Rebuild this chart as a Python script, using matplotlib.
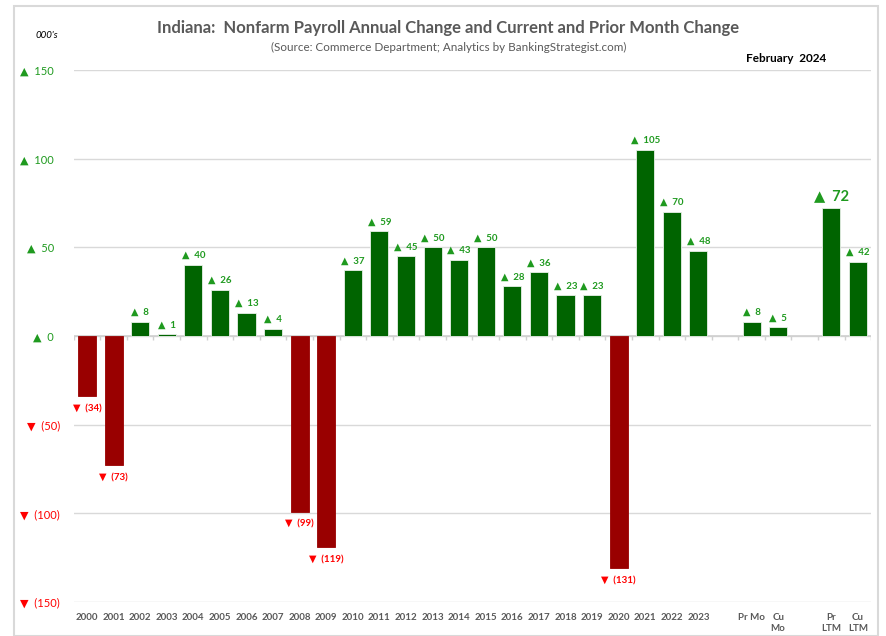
import numpy as np
import matplotlib.pyplot as plt
from matplotlib.patches import Rectangle

plt.rcParams['font.family'] = ['Lato', 'DejaVu Sans']

# Data (000's)
categories = ['2000', '2001', '2002', '2003', '2004', '2005', '2006', '2007', '2008', '2009',
              '2010', '2011', '2012', '2013', '2014', '2015', '2016', '2017', '2018', '2019',
              '2020', '2021', '2022', '2023', '', 'Pr Mo', 'Cu\nMo', '', 'Pr\nLTM', 'Cu\nLTM']
values = [-34, -73, 8, 1, 40, 26, 13, 4, -99, -119,
          37, 59, 45, 50, 43, 50, 28, 36, 23, 23,
          -131, 105, 70, 48, None, 8, 5, None, 72, 42]
yticks = [-150, -100, -50, 0, 50, 100, 150]

bar_green = '#006400'
bar_red = '#990000'
lab_green = '#1f9a1f'
lab_red = '#ff0000'

fig = plt.figure(figsize=(8.87, 6.36), dpi=100)
W, H = 887, 636
fig.patches.append(Rectangle((14 / W, 0), 864 / W, 630 / H, transform=fig.transFigure,
                             fill=False, edgecolor='#d9d9d9', linewidth=1.5))
ax = fig.add_axes([73.7 / W, 34 / H, 797.5 / W, 532 / H])

x = np.arange(len(categories))
for i, v in enumerate(values):
    if v is None:
        continue
    col = bar_green if v >= 0 else bar_red
    ax.bar(x[i], v, width=0.68, color=col, edgecolor='#e8f0e8' if v >= 0 else col,
           linewidth=0.6, zorder=3)
    if v >= 0:
        big = categories[i] == 'Pr\nLTM'
        ax.annotate('▲  %d' % v, (x[i], v), xytext=(0, 3.5),
                    textcoords='offset points', ha='center', va='bottom',
                    color=lab_green, fontsize=10.5 if big else 7, fontweight='bold')
    else:
        ax.annotate('▼  (%d)' % abs(v), (x[i], v), xytext=(0, -6),
                    textcoords='offset points', ha='center', va='top',
                    color=lab_red, fontsize=7, fontweight='bold')

ax.set_xlim(-0.5, len(categories) - 0.5)
ax.set_ylim(-150, 150)
ax.set_yticks(yticks)
ax.set_yticklabels(['▲  %d  ' % t if t >= 0 else '▼  (%d)' % abs(t) for t in yticks])
for lbl, t in zip(ax.get_yticklabels(), yticks):
    lbl.set_color(lab_green if t >= 0 else lab_red)
    lbl.set_fontsize(8)
ax.tick_params(axis='y', length=0, pad=10)
ax.set_xticks(x)
ax.set_xticklabels(categories, fontsize=7, fontweight='bold', color='#595959', va='top')
ax.tick_params(axis='x', length=0, pad=8)

for s in ax.spines.values():
    s.set_visible(False)
ax.grid(axis='y', color='#d9d9d9', linewidth=1, zorder=0)
ax.axhline(0, color='#d0d0d0', linewidth=1.2, zorder=2)
ax.vlines(np.arange(-0.5, len(categories)), -2.5, 0, color='#d0d0d0', linewidth=1, zorder=2)

fig.text(448 / W, 1 - 28 / H, 'Indiana:  Nonfarm Payroll Annual Change and Current and Prior Month Change',
         ha='center', va='center', fontsize=12, fontweight='bold', color='#595959')
fig.text(449 / W, 1 - 47 / H, '(Source: Commerce Department; Analytics by BankingStrategist.com)',
         ha='center', va='center', fontsize=8.4, color='#595959')
fig.text(786 / W, 1 - 58 / H, 'February  2024', ha='center', va='center',
         fontsize=8.5, fontweight='bold', color='black')
fig.text(47 / W, 1 - 35 / H, "000's", ha='center', va='center', fontsize=7,
         style='italic', color='black')

fig.savefig('out.png', dpi=100)
